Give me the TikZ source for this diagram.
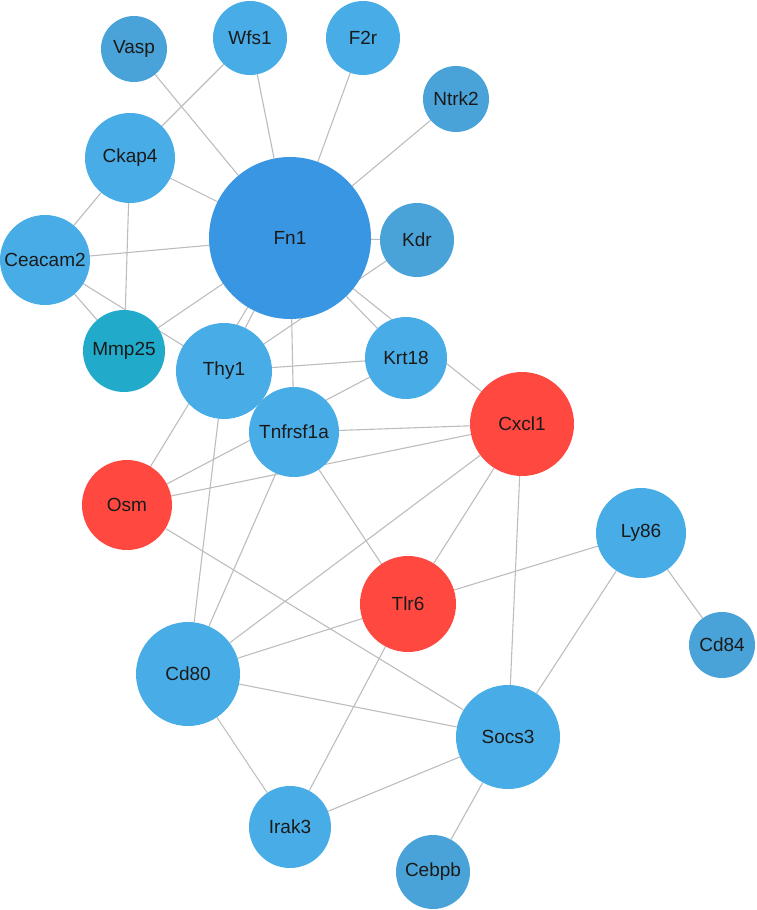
\documentclass[tikz,border=0pt]{standalone}
\usepackage{fontspec}
\setmainfont{Liberation Sans}
\usetikzlibrary{backgrounds}
\definecolor{nblue}{HTML}{48ADE7}
\definecolor{ndark}{HTML}{4AA3D8}
\definecolor{nhub}{HTML}{3996E2}
\definecolor{nteal}{HTML}{21AACA}
\definecolor{nred}{HTML}{FF4840}
\definecolor{edgegray}{HTML}{BDBDBD}
\definecolor{txt}{HTML}{1A1A1A}
\tikzset{
  gene/.style={circle, draw=none, inner sep=0pt, text=txt,
    font=\fontsize{19}{22}\selectfont, fill=nblue},
  lb/.style={gene, fill=nblue},
  db/.style={gene, fill=ndark},
  hub/.style={gene, fill=nhub},
  teal/.style={gene, fill=nteal},
  hit/.style={gene, fill=nred},
  link/.style={draw=edgegray, line width=1.1pt}
}
\begin{document}
\begin{tikzpicture}[x=1pt,y=-1pt]
\useasboundingbox (0,0) rectangle (756,910);
\node[db,  minimum size=66pt]  (Vasp)     at (134,49)  {Vasp};
\node[lb,  minimum size=74pt]  (Wfs1)     at (250,38)  {Wfs1};
\node[lb,  minimum size=74pt]  (F2r)      at (363,38)  {F2r};
\node[db,  minimum size=66pt]  (Ntrk2)    at (456,99)  {Ntrk2};
\node[lb,  minimum size=90pt]  (Ckap4)    at (130,158) {Ckap4};
\node[hub, minimum size=162pt] (Fn1)      at (290,238) {Fn1};
\node[db,  minimum size=74pt]  (Kdr)      at (417,240) {Kdr};
\node[lb,  minimum size=90pt]  (Ceacam2)  at (45,260)  {Ceacam2};
\node[teal,minimum size=82pt]  (Mmp25)    at (124,351) {Mmp25};
\node[lb,  minimum size=96pt]  (Thy1)     at (224,371) {Thy1};
\node[lb,  minimum size=82pt]  (Krt18)    at (406,358) {Krt18};
\node[lb,  minimum size=90pt]  (Tnfrsf1a) at (294,432) {Tnfrsf1a};
\node[hit, minimum size=104pt] (Cxcl1)    at (522,424) {Cxcl1};
\node[hit, minimum size=90pt]  (Osm)      at (127,505) {Osm};
\node[lb,  minimum size=90pt]  (Ly86)     at (641,533) {Ly86};
\node[hit, minimum size=96pt]  (Tlr6)     at (408,604) {Tlr6};
\node[db,  minimum size=66pt]  (Cd84)     at (722,645) {Cd84};
\node[lb,  minimum size=104pt] (Cd80)     at (188,674) {Cd80};
\node[lb,  minimum size=104pt] (Socs3)    at (508,737) {Socs3};
\node[lb,  minimum size=82pt]  (Irak3)    at (290,827) {Irak3};
\node[db,  minimum size=74pt]  (Cebpb)    at (433,872) {Cebpb};
\begin{scope}[on background layer]
\draw[link] (Vasp) -- (Fn1);
\draw[link] (Wfs1) -- (Fn1);
\draw[link] (Wfs1) -- (Ckap4);
\draw[link] (F2r) -- (Fn1);
\draw[link] (Ntrk2) -- (Fn1);
\draw[link] (Ckap4) -- (Fn1);
\draw[link] (Ckap4) -- (Ceacam2);
\draw[link] (Ckap4.center) -- (Mmp25.center);
\draw[link] (Ceacam2) -- (Fn1);
\draw[link] (Ceacam2) -- (Mmp25);
\draw[link] (Ceacam2.center) -- (Thy1.center);
\draw[link] (Mmp25) -- (Fn1);
\draw[link] (Kdr) -- (Fn1);
\draw[link] (Kdr.center) -- (Thy1.center);
\draw[link] (Fn1) -- (Thy1);
\draw[link] (Fn1.center) -- (Osm.center);
\draw[link] (Fn1) -- (Tnfrsf1a);
\draw[link] (Fn1) -- (Krt18);
\draw[link] (Fn1.center) -- (Cxcl1.center);
\draw[link] (Thy1) -- (Krt18);
\draw[link] (Thy1) -- (Cd80);
\draw[link] (Osm.center) -- (Krt18.center);
\draw[link] (Osm.center) -- (Cxcl1.center);
\draw[link] (Osm) -- (Socs3);
\draw[link] (Tnfrsf1a) -- (Cxcl1);
\draw[link] (Tnfrsf1a) -- (Tlr6);
\draw[link] (Tnfrsf1a) -- (Cd80);
\draw[link] (Cxcl1) -- (Tlr6);
\draw[link] (Cxcl1) -- (Cd80);
\draw[link] (Cxcl1) -- (Socs3);
\draw[link] (Tlr6) -- (Ly86);
\draw[link] (Tlr6) -- (Cd80);
\draw[link] (Tlr6) -- (Irak3);
\draw[link] (Ly86) -- (Cd84);
\draw[link] (Ly86) -- (Socs3);
\draw[link] (Cd80) -- (Socs3);
\draw[link] (Cd80) -- (Irak3);
\draw[link] (Socs3) -- (Irak3);
\draw[link] (Socs3) -- (Cebpb);
\end{scope}
\end{tikzpicture}
\end{document}
